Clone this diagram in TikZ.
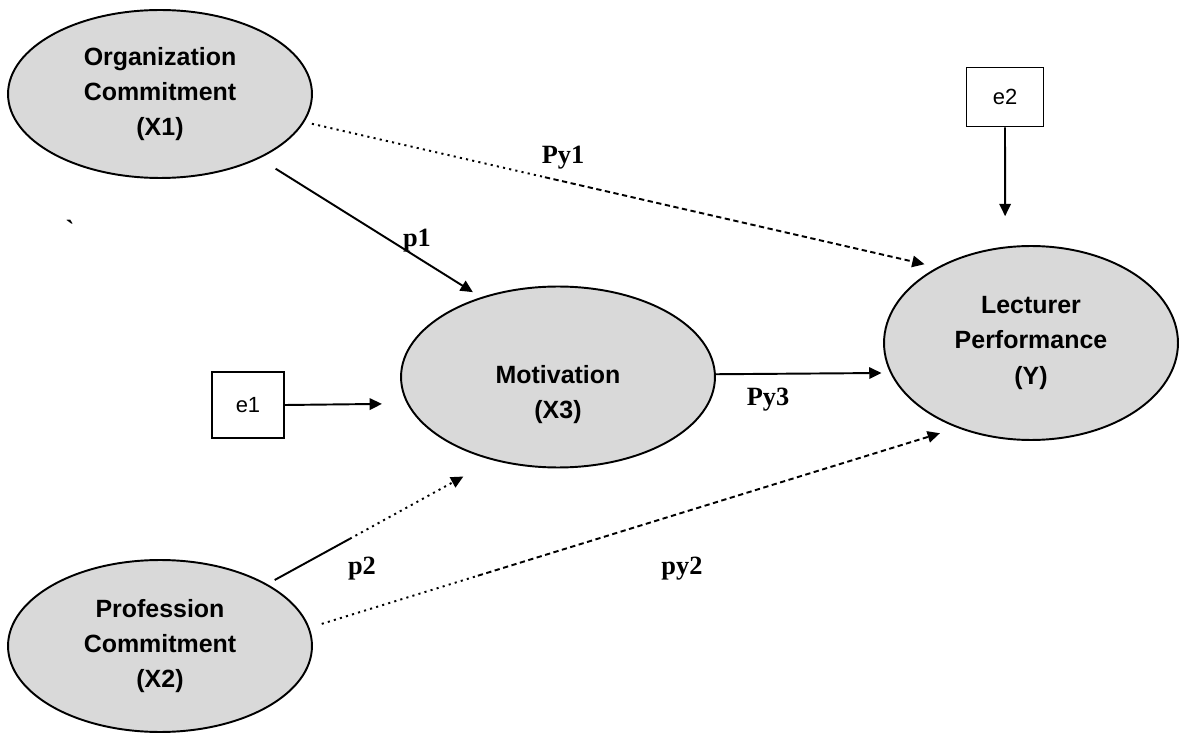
\documentclass[tikz,border=0pt]{standalone}
\usepackage{fontspec}
\setmainfont{Liberation Serif}
\setsansfont{Liberation Sans}
\usetikzlibrary{arrows.meta,shapes.geometric,positioning}

\definecolor{latentgray}{RGB}{217,217,217}

\tikzset{
  latent/.style={ellipse,draw=black,line width=1.1pt,fill=latentgray,inner sep=0pt,align=center,
    font=\sffamily\bfseries\fontsize{14.2}{20}\selectfont},
  errbox/.style={rectangle,draw=black,line width=1.1pt,fill=white,inner sep=0pt,
    font=\sffamily\fontsize{12.5}{14}\selectfont},
  arr/.style={-{Triangle[length=7pt,width=6.5pt]}},
  link/.style={line width=1.1pt,arr},
  dotline/.style={line width=1.1pt,dash pattern=on 1.2pt off 2.4pt},
  dashline/.style={line width=1.1pt,dash pattern=on 3pt off 2pt},
  coef/.style={font=\bfseries\fontsize{15}{17}\selectfont}
}

\begin{document}
\begin{tikzpicture}[x=0.02cm,y=-0.02cm]
        \useasboundingbox (0,0) rectangle (1181,733);

        % latent variables
        \node[latent,minimum width=6.08cm,minimum height=3.36cm] (orgComm) at (160,94) {Organization\\Commitment\\(X1)};
        \node[latent,minimum width=6.08cm,minimum height=3.44cm] (profComm) at (160,646) {Profession\\Commitment\\(X2)};
        \node[latent,minimum width=6.28cm,minimum height=3.62cm] (motiv) at (558,377) {\rule{0pt}{30pt}Motivation\\(X3)};
        \node[latent,minimum width=5.88cm,minimum height=3.88cm] (lectPerf) at (1031,343) {Lecturer\\Performance\\(Y)};

        % error terms
        \node[errbox,minimum width=1.44cm,minimum height=1.32cm] (err1) at (248,405) {e1};
        \node[errbox,minimum width=1.54cm,minimum height=1.18cm] (err2) at (1005,97) {e2};

        % path coefficients
        \node[coef] (lblPy1) at (563,158) {Py1};
        \node[coef] (lblP1) at (417,241) {p1};
        \node[coef] (lblPy3) at (768,400) {Py3};
        \node[coef] (lblP2) at (362,569) {p2};
        \node[coef] (lblPy2) at (682,569) {py2};
        \node[coef] (tick) at (70,229) {\textasciigrave};

        % solid arcs
        \draw[link,shorten <=10.9pt,shorten >=5.4pt] (orgComm.-33.9) -- (motiv.134.2);
        \draw[link,shorten >=4.9pt] (motiv.1.8) -- (lectPerf.-168.3);
        \draw[link,shorten >=14.2pt] (err1.east) -- (motiv.190.6);
        \draw[link,shorten >=17.3pt] (err2.south) -- (lectPerf.105.2);

        % X1 to Y, dotted then dashed
        \path (orgComm.-11.6) -- (lectPerf.141.1) coordinate[pos=.38] (py1Mid);
        \draw[dotline,shorten <=4.4pt] (orgComm.-11.6) -- (py1Mid);
        \draw[dashline,arr,shorten >=7.5pt] (py1Mid) -- (lectPerf.141.1);

        % X2 to X3, solid then dotted
        \path (profComm.30.4) -- (motiv.232.7) coordinate[pos=.366] (p2Mid);
        \draw[line width=1.1pt,shorten <=4.8pt] (profComm.30.4) -- (p2Mid);
        \draw[dotline,arr,shorten >=19.2pt] (p2Mid) -- (motiv.232.7);

        % X2 to Y, dotted then dashed
        \path (profComm.7.8) -- (lectPerf.229.8) coordinate[pos=.26] (py2Mid);
        \draw[dotline,shorten <=7.3pt] (profComm.7.8) -- (py2Mid);
        \draw[dashline,arr,shorten >=10.3pt] (py2Mid) -- (lectPerf.229.8);
\end{tikzpicture}
\end{document}
